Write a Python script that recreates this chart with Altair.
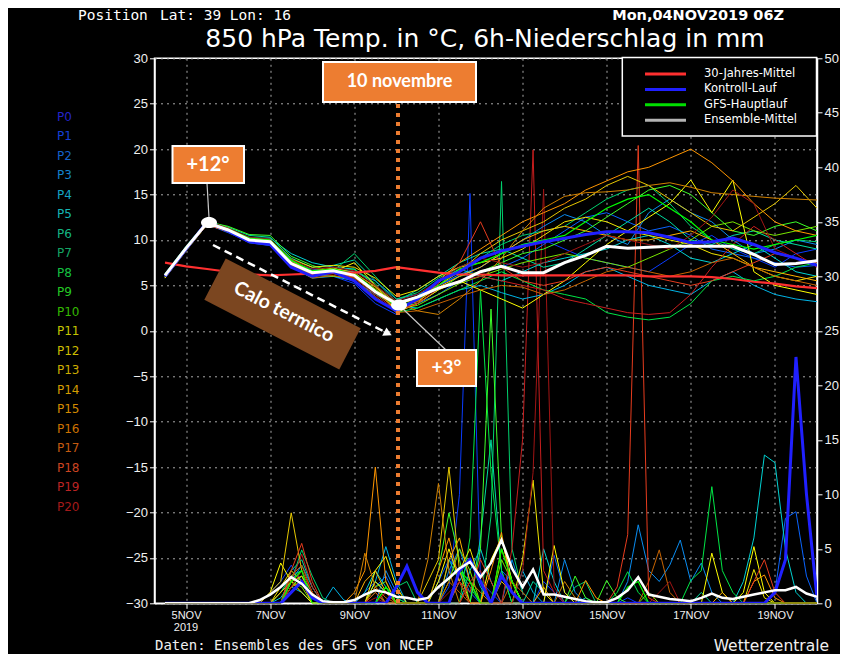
import altair as alt
import pandas as pd

# ---------------- data ----------------
# hours after 04NOV2019 06Z
T_START_H, T_STEP_H = 6, 12      # temperature every 12 h from 04NOV 12Z
P_START_H, P_STEP_H = 6, 6       # 6h precipitation from 04NOV 12Z
N_PRECIP = 63
X_DOMAIN_H = [0, 378]
X_TICK_H = [18, 66, 114, 162, 210, 258, 306, 354]
X_TICK_LABELS = ["5NOV", "7NOV", "9NOV", "11NOV", "13NOV", "15NOV", "17NOV", "19NOV"]
Y_TEMP_TICKS = [-30, -25, -20, -15, -10, -5, 0, 5, 10, 15, 20, 25, 30]
Y_PREC_TICKS = [0, 5, 10, 15, 20, 25, 30, 35, 40, 45, 50]

TEMP_MEAN = [6.1, 9.1, 11.9, 11.1, 10.0, 9.8, 7.4, 6.4, 6.6, 6.1, 4.3, 3.0, 3.7, 4.7, 5.4, 6.5,
             7.1, 6.4, 6.4, 7.5, 8.3, 9.3, 9.1, 9.2, 9.3, 9.3, 9.3, 9.3, 8.4, 7.3, 7.4, 7.7]
TEMP_CLIMO = [7.5, 7.1, 6.8, 6.5, 6.2, 6.1, 6.2, 6.3, 6.4, 6.4, 6.6, 7.0, 6.7, 6.4, 6.2, 6.2,
              6.1, 6.1, 6.1, 6.1, 6.1, 6.1, 6.1, 6.0, 6.0, 6.0, 5.9, 5.7, 5.4, 5.2, 4.9, 4.7]
TEMP_CONTROL = [6.0, 9.0, 12.0, 11.0, 9.8, 9.5, 7.0, 6.0, 6.5, 5.5, 3.5, 2.2, 3.5, 5.5, 6.5, 8.0,
                8.8, 9.3, 9.8, 10.2, 10.6, 10.9, 10.9, 10.8, 10.3, 9.7, 9.8, 10.2, 9.5, 8.6, 8.0, 7.2]
TEMP_GFS = [6.0, 9.1, 12.0, 11.2, 10.2, 10.0, 7.8, 6.6, 6.8, 6.3, 4.5, 2.6, 3.4, 5.0, 6.8, 7.5,
            8.5, 9.5, 10.0, 10.5, 12.0, 13.5, 14.5, 15.0, 13.5, 12.0, 10.0, 9.5, 9.0, 9.5, 10.0, 10.5]
TEMP_MEMBERS = {
    "P1": [5.8, 9.2, 11.9, 11.2, 10.1, 9.9, 7.8, 6.2, 6.0, 5.2, 3.0, 1.8, 3.5, 5.0, 6.0, 7.0,
           8.5, 9.5, 10.0, 9.0, 8.0, 7.5, 7.0, 6.5, 8.0, 9.5, 10.5, 9.0, 8.0, 7.0, 8.5, 9.0],
    "P2": [6.1, 9.0, 11.7, 10.8, 9.8, 9.5, 7.5, 6.8, 6.4, 6.0, 4.5, 2.5, 3.0, 4.0, 5.5, 6.5,
           7.0, 8.0, 9.5, 11.0, 12.5, 13.0, 12.0, 11.0, 11.5, 10.5, 9.0, 8.5, 8.0, 7.5, 7.0, 7.2],
    "P3": [6.2, 9.1, 12.0, 11.1, 10.3, 10.0, 7.2, 6.0, 6.8, 6.5, 5.5, 3.5, 4.0, 5.0, 6.2, 7.0,
           8.5, 10.0, 11.5, 12.8, 12.0, 10.5, 9.5, 13.0, 14.5, 13.0, 12.0, 10.0, 8.5, 9.0, 10.0, 9.5],
    "P4": [5.9, 8.9, 11.8, 11.0, 9.7, 9.4, 7.0, 5.8, 6.0, 5.5, 4.0, 2.8, 2.5, 3.5, 4.5, 5.0,
           4.2, 3.5, 4.0, 5.0, 6.5, 7.0, 6.0, 5.0, 4.5, 4.0, 5.5, 6.5, 5.0, 4.0, 3.5, 3.2],
    "P5": [6.0, 9.0, 11.9, 11.2, 10.2, 10.2, 8.5, 7.5, 7.0, 6.8, 5.0, 3.0, 3.8, 5.5, 6.8, 6.0,
           5.5, 6.5, 7.5, 8.0, 8.5, 9.0, 10.0, 10.5, 9.5, 8.0, 7.5, 8.5, 9.5, 8.0, 6.5, 6.0],
    "P6": [6.3, 9.3, 12.1, 11.4, 10.5, 10.3, 8.0, 7.0, 7.2, 7.8, 5.5, 3.2, 4.5, 6.0, 7.5, 8.5,
           9.0, 8.0, 7.0, 7.5, 9.0, 10.5, 12.0, 13.5, 12.0, 10.0, 9.5, 10.5, 11.0, 10.0, 9.5, 9.0],
    "P7": [6.0, 9.1, 12.0, 11.3, 10.0, 9.6, 7.7, 6.5, 6.6, 8.5, 6.0, 3.5, 4.2, 5.8, 7.0, 8.0,
           9.5, 10.5, 11.0, 11.5, 13.0, 14.5, 15.5, 16.0, 14.0, 11.5, 10.0, 9.0, 8.5, 9.5, 10.0, 9.8],
    "P8": [5.9, 9.0, 11.8, 11.0, 9.9, 9.8, 7.6, 6.3, 6.5, 6.8, 5.2, 2.0, 2.5, 3.5, 4.5, 5.5,
           6.5, 5.5, 4.5, 4.0, 3.5, 2.0, 1.5, 1.2, 1.5, 3.0, 5.5, 6.0, 5.5, 6.0, 7.0, 7.5],
    "P9": [6.1, 9.2, 12.0, 11.5, 10.6, 10.5, 8.2, 7.2, 6.5, 6.0, 4.5, 2.6, 3.0, 4.5, 6.0, 6.5,
           7.5, 8.5, 9.0, 10.0, 11.0, 12.5, 14.0, 15.5, 16.0, 15.0, 13.0, 11.0, 10.5, 11.5, 12.0, 11.0],
    "P10": [6.0, 9.0, 11.9, 11.1, 10.0, 9.7, 7.3, 6.1, 6.0, 5.8, 4.2, 2.4, 2.8, 4.0, 5.2, 6.0,
            6.8, 7.5, 8.0, 8.5, 8.0, 7.5, 7.0, 8.0, 9.0, 10.0, 11.5, 12.0, 11.0, 10.5, 11.0, 11.5],
    "P11": [5.8, 8.8, 11.7, 10.9, 9.9, 9.5, 7.0, 5.9, 6.5, 7.5, 5.0, 2.0, 3.0, 4.5, 5.5, 4.5,
            3.5, 2.5, 4.0, 5.5, 7.5, 9.5, 11.0, 12.5, 14.0, 16.6, 13.0, 16.6, 6.5, 5.0, 4.5, 4.0],
    "P12": [6.2, 9.1, 11.8, 11.2, 10.2, 9.9, 7.9, 7.0, 7.2, 7.0, 5.8, 3.8, 4.5, 6.0, 7.0, 7.5,
            8.0, 9.0, 10.5, 12.0, 12.5, 12.0, 11.0, 10.5, 10.0, 9.5, 8.5, 8.0, 7.0, 6.0, 5.5, 6.0],
    "P13": [6.0, 9.0, 11.9, 11.0, 10.0, 9.8, 7.5, 6.6, 6.9, 6.4, 4.8, 2.9, 3.5, 5.0, 6.5, 8.5,
            10.0, 11.0, 12.0, 13.5, 14.5, 16.0, 17.0, 16.0, 14.5, 13.0, 11.5, 11.0, 12.5, 14.0, 16.0, 13.5],
    "P14": [6.1, 9.1, 12.0, 11.3, 10.2, 10.0, 7.8, 6.4, 6.6, 6.2, 4.6, 2.7, 3.2, 4.8, 6.0, 7.0,
            8.5, 10.0, 11.0, 11.5, 11.0, 10.5, 10.0, 10.0, 10.5, 11.0, 10.0, 8.5, 7.0, 6.5, 6.0, 5.5],
    "P15": [5.9, 8.9, 11.8, 11.0, 9.8, 9.7, 7.4, 6.2, 6.3, 5.9, 4.4, 2.3, 3.0, 5.5, 7.5, 9.0,
            10.5, 12.0, 13.0, 14.0, 15.5, 16.5, 17.5, 18.0, 19.0, 20.0, 18.5, 16.5, 14.0, 12.0, 11.0, 10.5],
    "P16": [6.0, 9.0, 11.8, 11.1, 10.1, 9.9, 7.6, 6.5, 6.7, 6.3, 4.9, 3.1, 2.2, 1.8, 3.5, 5.5,
            8.0, 11.0, 13.5, 14.8, 15.2, 15.3, 15.5, 16.0, 16.3, 15.8, 15.2, 15.0, 14.8, 14.6, 14.5, 14.4],
    "P17": [6.1, 9.2, 11.9, 11.2, 10.0, 9.6, 7.1, 5.8, 6.1, 5.6, 3.8, 2.0, 2.2, 3.0, 3.8, 4.5,
            5.0, 4.8, 4.0, 4.5, 5.5, 6.5, 7.0, 6.5, 6.0, 6.5, 7.5, 8.0, 7.0, 6.0, 5.5, 5.0],
    "P18": [6.0, 9.0, 11.8, 11.0, 9.9, 9.6, 7.5, 6.2, 6.4, 6.0, 4.3, 2.5, 3.3, 5.2, 7.5, 12.0,
            7.0, 5.5, 5.0, 5.5, 6.5, 7.0, 6.5, 6.0, 5.5, 5.0, 5.5, 6.5, 7.5, 8.5, 8.0, 7.5],
    "P19": [5.9, 8.9, 11.7, 10.9, 9.8, 9.5, 7.2, 6.0, 6.3, 5.8, 4.0, 2.2, 3.0, 4.6, 5.5, 6.0,
            5.5, 5.0, 4.5, 3.5, 3.0, 2.5, 2.0, 1.8, 2.0, 4.0, 7.0, 9.5, 11.5, 10.0, 8.5, 7.0],
    "P20": [6.2, 9.2, 12.1, 11.3, 10.3, 10.1, 7.9, 6.8, 7.0, 6.6, 5.0, 3.3, 4.0, 5.5, 7.0, 8.0,
            7.5, 7.0, 7.5, 8.5, 9.5, 10.5, 10.0, 9.5, 9.0, 10.5, 12.5, 15.5, 14.0, 9.0, 8.0, 7.5],
}

PRECIP_MEAN = [0, 0, 0, 0, 0, 0, 0, 0, 0, 0.3, 0.8, 1.5, 2.4, 1.8, 0.8, 0.2, 0.1, 0.1,
               0.3, 0.8, 1.2, 1.0, 0.6, 0.5, 0.3, 0.5, 1.5, 2.3, 3.2, 3.8, 2.4, 3.7, 5.8, 3.2,
               1.5, 3.1, 0.8, 0.8, 0.6, 0.4, 0.2, 0.1, 0.1, 0.5, 1.2, 2.4, 0.8, 0.6, 0.4, 0.3,
               0.2, 0.5, 0.9, 0.5, 0.4, 0.6, 0.8, 1.0, 1.2, 1.2, 1.5, 0.9, 0.6]
# 6h precipitation (mm), only the non-zero 6h steps are listed: {step index: mm}
PRECIP_CONTROL = {12: 1.0, 13: 2.0, 14: 0.5, 22: 1.5, 23: 3.4, 24: 1.0, 28: 3.0, 29: 4.0, 30: 2.0,
                  32: 2.5, 33: 1.0, 58: 1.0, 59: 4.0, 60: 22.6, 61: 10.0, 62: 0.5}
PRECIP_GFS = {12: 2.0, 13: 3.0, 21: 1.5, 28: 3.0, 29: 2.0, 32: 5.0, 33: 2.0, 44: 1.5, 45: 2.0}
PRECIP_MEMBERS = {
    "P1": {10: 1.0, 11: 2.0, 12: 3.5, 13: 2.0, 14: 0.5, 19: 1.0, 20: 2.0, 21: 1.0, 27: 1.5, 28: 10.0,
           29: 37.6, 30: 2.0, 31: 1.0, 36: 2.0, 37: 1.0, 44: 0.5},
    "P2": {11: 1.0, 12: 2.5, 13: 3.0, 14: 1.0, 20: 1.5, 21: 2.5, 22: 0.5, 26: 2.0, 27: 4.0, 28: 3.0,
           29: 1.0, 32: 3.0, 33: 2.0, 37: 4.4, 38: 1.0, 58: 1.0, 59: 7.8, 60: 8.4, 61: 2.5},
    "P3": {12: 2.0, 13: 3.5, 14: 1.5, 21: 3.0, 22: 1.0, 27: 3.0, 28: 5.0, 29: 2.0, 33: 4.0, 34: 1.0,
           38: 4.0, 39: 1.0, 44: 2.0, 45: 7.2, 46: 3.0, 47: 2.0, 48: 3.5, 49: 5.8, 50: 2.0, 51: 3.7, 52: 1.0},
    "P4": {12: 1.5, 13: 1.0, 16: 1.5, 17: 0.3, 20: 2.0, 21: 5.2, 22: 2.0, 28: 2.0, 29: 4.0, 30: 1.5,
           34: 3.0, 35: 1.0, 40: 0.5},
    "P5": {11: 0.5, 12: 2.0, 13: 2.5, 14: 1.0, 19: 1.0, 20: 3.0, 21: 1.5, 29: 3.0, 30: 5.0, 31: 2.0,
           36: 5.0, 37: 2.0, 55: 2.0, 56: 6.0, 57: 13.6, 58: 12.9, 59: 5.0, 60: 1.0},
    "P6": {12: 3.0, 13: 4.0, 14: 1.5, 20: 2.0, 21: 1.0, 27: 4.0, 28: 2.0, 30: 6.0, 31: 15.0, 32: 3.0,
           35: 2.0, 36: 1.0, 51: 1.0},
    "P7": {12: 2.0, 13: 4.9, 14: 2.5, 15: 0.5, 22: 1.5, 23: 2.0, 28: 3.0, 29: 1.5, 31: 8.0, 32: 38.7,
           33: 5.0, 34: 1.0, 39: 1.5, 40: 2.0},
    "P8": {11: 1.0, 12: 2.5, 13: 3.0, 14: 1.0, 21: 1.5, 22: 0.5, 29: 6.0, 30: 28.7, 31: 12.0, 32: 3.0,
           43: 1.0, 44: 2.9, 45: 1.0, 50: 2.1, 51: 3.0, 52: 10.7, 53: 3.0, 54: 1.0},
    "P9": {12: 1.5, 13: 2.5, 14: 1.0, 20: 1.0, 26: 3.0, 27: 8.3, 28: 4.0, 30: 5.0, 31: 27.0, 32: 6.0,
           33: 2.0, 39: 2.5, 40: 0.5, 42: 2.1, 43: 0.5},
    "P10": {11: 1.0, 12: 2.0, 13: 1.5, 20: 1.5, 21: 2.0, 27: 2.0, 28: 5.0, 29: 3.0, 32: 4.0, 33: 2.0, 46: 1.0},
    "P11": {10: 1.0, 11: 3.7, 12: 2.0, 13: 1.0, 20: 3.0, 21: 4.3, 22: 1.5, 26: 2.0, 27: 5.0, 28: 2.0,
            31: 4.0, 32: 6.0, 33: 2.0, 37: 5.3, 38: 1.0, 52: 4.6, 53: 1.0, 55: 1.0, 56: 5.2, 57: 1.0},
    "P12": {11: 1.5, 12: 3.0, 13: 2.0, 20: 2.0, 21: 1.0, 28: 3.0, 29: 5.0, 30: 2.0, 34: 4.0, 35: 11.3,
            36: 1.0, 56: 3.1, 57: 0.5},
    "P13": {10: 1.0, 11: 2.0, 12: 8.3, 13: 3.0, 14: 1.0, 25: 2.0, 26: 4.0, 27: 12.5, 28: 3.0, 32: 2.0, 33: 1.0},
    "P14": {11: 1.0, 12: 2.0, 13: 2.5, 14: 0.5, 19: 2.0, 20: 3.0, 21: 1.0, 27: 4.0, 28: 6.0, 29: 2.0,
            32: 5.0, 33: 2.0, 36: 1.5, 53: 1.0},
    "P15": {12: 1.5, 13: 2.0, 18: 1.0, 19: 3.0, 20: 12.5, 21: 2.0, 26: 3.0, 27: 6.0, 28: 2.0, 31: 3.0,
            32: 6.5, 33: 1.0, 40: 2.1, 41: 0.5, 56: 2.0, 57: 2.6, 58: 0.5},
    "P16": {12: 2.0, 13: 3.0, 14: 1.0, 19: 4.6, 20: 1.5, 25: 4.0, 26: 11.0, 27: 3.0, 29: 2.0, 30: 1.0,
            38: 2.0, 39: 0.5},
    "P17": {12: 2.5, 13: 3.5, 14: 1.0, 20: 1.5, 21: 0.5, 27: 2.0, 28: 1.0, 33: 2.0, 34: 1.0, 46: 2.0,
            47: 4.9, 48: 1.0},
    "P18": {12: 3.0, 13: 5.5, 14: 2.0, 20: 1.0, 28: 2.0, 29: 1.0, 30: 4.0, 31: 2.0, 43: 1.5, 44: 6.3,
            45: 42.0, 46: 0.5, 56: 2.0, 57: 4.0, 58: 1.0},
    "P19": {12: 2.0, 13: 4.5, 14: 1.5, 21: 1.0, 29: 2.0, 30: 3.0, 33: 5.0, 34: 15.0, 35: 41.6, 36: 3.0, 37: 1.0},
    "P20": {12: 1.5, 13: 3.0, 14: 1.0, 20: 0.5, 27: 1.0, 28: 2.0, 34: 3.0, 35: 12.0, 36: 38.0, 37: 1.5,
            47: 1.0, 48: 2.0},
}

MEMBER_COLORS = {
    "P1": "#0a3cff", "P2": "#0a64ff", "P3": "#0a8cf0", "P4": "#00b4e6", "P5": "#00d2d2",
    "P6": "#00dca0", "P7": "#00d26e", "P8": "#00e646", "P9": "#3cff28", "P10": "#78e600",
    "P11": "#ffff00", "P12": "#f0e600", "P13": "#e6c800", "P14": "#ffb400", "P15": "#ff9600",
    "P16": "#d28200", "P17": "#c86400", "P18": "#e63c1e", "P19": "#c81e1e", "P20": "#a01414",
}
P_LABELS = ["P%d" % i for i in range(21)]
P_LABEL_COLORS = ["#2424c8", "#1440d8", "#1462cc", "#1482cc", "#14a2c4", "#14b4b4", "#14b484",
                  "#14a464", "#14c040", "#24c824", "#34b800", "#c4c400", "#ccbc00", "#ccac00",
                  "#d49c00", "#d48a00", "#cc7200", "#c45a10", "#cc4420", "#bc2424", "#a41a1a"]
LEGEND_LABELS = ["30-Jahres-Mittel", "Kontroll-Lauf", "GFS-Hauptlauf", "Ensemble-Mittel"]
LEGEND_COLORS = ["#ff3030", "#2020ff", "#00e000", "#b4b4b4"]

# ---------------- layout helpers ----------------
W, H = 662.5, 545
X0, Y0 = 154.5, 58.3          # page position of the plot origin
LABEL_FONT = "Liberation Sans Narrow, Liberation Sans, DejaVu Sans"
ANNOT_FONT = "Lato, Open Sans, sans-serif"
ORANGE = "#ed7d31"


def px(x):
    return x - X0


def py(y):
    return y - Y0


def series_df(name, vals, start, step, color):
    return pd.DataFrame({"series": name, "h": [start + step * i for i in range(len(vals))],
                         "v": vals, "col": color})


def full_precip(sparse):
    return [sparse.get(j, 0.0) for j in range(N_PRECIP)]


df_tm = pd.concat([series_df(n, v, T_START_H, T_STEP_H, MEMBER_COLORS[n]) for n, v in TEMP_MEMBERS.items()])
df_pm = pd.concat([series_df(n, full_precip(v), P_START_H, P_STEP_H, MEMBER_COLORS[n])
                   for n, v in PRECIP_MEMBERS.items()])
df_tmean = series_df("mean", TEMP_MEAN, T_START_H, T_STEP_H, "#ffffff")
df_tclim = series_df("climo", TEMP_CLIMO, T_START_H, T_STEP_H, "#ff3030")
df_tctrl = series_df("ctrl", TEMP_CONTROL, T_START_H, T_STEP_H, "#2020ff")
df_tgfs = series_df("gfs", TEMP_GFS, T_START_H, T_STEP_H, "#00ff00")
df_pmean = series_df("mean", PRECIP_MEAN, P_START_H, P_STEP_H, "#ffffff")
df_pctrl = series_df("ctrl", full_precip(PRECIP_CONTROL), P_START_H, P_STEP_H, "#2020ff")
df_pgfs = series_df("gfs", full_precip(PRECIP_GFS), P_START_H, P_STEP_H, "#00ff00")

label_expr = " : ".join("datum.value == %d ? '%s'" % (h, l) for h, l in zip(X_TICK_H, X_TICK_LABELS)) + " : ''"

GRID = dict(grid=True, gridColor="#a8a8a8", gridDash=[2, 4], gridWidth=1)
x_axis = alt.Axis(values=X_TICK_H, labelExpr=label_expr, title=None, domainColor="white", domainWidth=1.5,
                  tickColor="white", tickSize=5, labelColor="#f0f0f0", labelFont=LABEL_FONT,
                  labelFontSize=11, labelPadding=1, labelFlush=False, **GRID)
y_left = alt.Axis(values=Y_TEMP_TICKS, title=None, orient="left", domainColor="white", domainWidth=1.5,
                  tickColor="white", tickSize=5, labelColor="#f0f0f0", labelFont=LABEL_FONT,
                  labelFontSize=13, labelPadding=2, labelFlush=False, **GRID)
y_right = alt.Axis(values=Y_PREC_TICKS, title=None, orient="right", grid=False, domainColor="white",
                   domainWidth=1.5, tickColor="white", tickSize=5, labelColor="#f0f0f0",
                   labelFont=LABEL_FONT, labelFontSize=13, labelPadding=2, labelFlush=False)

X = alt.X("h:Q", scale=alt.Scale(domain=X_DOMAIN_H, nice=False, zero=False), axis=x_axis)
YT = alt.Y("v:Q", scale=alt.Scale(domain=[-30, 30], nice=False, zero=False), axis=y_left)
YP = alt.Y("v:Q", scale=alt.Scale(domain=[0, 50], nice=False, zero=False), axis=y_right)
COL = alt.Color("col:N", scale=None)


def line(df, y, width):
    return alt.Chart(df).mark_line(strokeWidth=width, clip=True).encode(
        x=X, y=y, color=COL, detail="series:N")


precip_group = alt.layer(line(df_pm, YP, 1), line(df_pgfs, YP, 1.2),
                         line(df_pctrl, YP, 3), line(df_pmean, YP, 2.5))
temp_group = alt.layer(line(df_tm, YT, 1), line(df_tgfs, YT, 1.2), line(df_tclim, YT, 2.2),
                       line(df_tctrl, YT, 3), line(df_tmean, YT, 3))

one = pd.DataFrame({"a": [0]})


def text(x, y, s, size, font=LABEL_FONT, weight="normal", align="left", color="white", angle=0):
    return alt.Chart(one).mark_text(fontSize=size, font=font, fontWeight=weight, align=align,
                                    baseline="middle", color=color, angle=angle).encode(
        x=alt.value(px(x)), y=alt.value(py(y)), text=alt.value(s))


def rect(x1, y1, x2, y2, fill, stroke=None, sw=0):
    kw = dict(fill=fill, strokeWidth=sw, opacity=1)
    if stroke:
        kw["stroke"] = stroke
    return alt.Chart(one).mark_rect(**kw).encode(
        x=alt.value(px(x1)), x2=alt.value(px(x2)), y=alt.value(py(y1)), y2=alt.value(py(y2)))


def seg(x1, y1, x2, y2, color, width, dash=None):
    kw = dict(color=color, strokeWidth=width)
    if dash:
        kw["strokeDash"] = dash
    return alt.Chart(one).mark_rule(**kw).encode(
        x=alt.value(px(x1)), x2=alt.value(px(x2)), y=alt.value(py(y1)), y2=alt.value(py(y2)))


def symbol(x, y, shape, size, color, angle=0):
    return alt.Chart(one).mark_point(shape=shape, size=size, filled=True, color=color, opacity=1,
                                     angle=angle, strokeWidth=0).encode(
        x=alt.value(px(x)), y=alt.value(py(y)))


ELLIPSE = "M-1,0 A1,0.7,0,1,1,1,0 A1,0.7,0,1,1,-1,0 Z"
BANNER = "M-1,-0.306 L1,-0.306 L1,0.306 L-1,0.306 Z"

# P0..P20 labels on the left
df_plab = pd.DataFrame({"lab": P_LABELS, "col": P_LABEL_COLORS,
                        "py": [py(116.7 + 19.5 * i) for i in range(len(P_LABELS))]})
plabels = alt.Chart(df_plab).mark_text(align="left", baseline="middle", fontSize=12,
                                       font="DejaVu Sans").encode(
    x=alt.value(px(57)), y=alt.Y("py:Q", scale=None, axis=None), text="lab:N", color=COL)

# legend box
df_leg = pd.DataFrame({"lab": LEGEND_LABELS, "col": LEGEND_COLORS,
                       "py": [py(74 + 15.4 * i) for i in range(len(LEGEND_LABELS))]})
leg_box = rect(622.3, 57.5, 816.5, 136, "black", "white", 1.5)
leg_lines = alt.Chart(df_leg).mark_rule(strokeWidth=3).encode(
    x=alt.value(px(645)), x2=alt.value(px(686)), y=alt.Y("py:Q", scale=None, axis=None), color=COL)
leg_text = alt.Chart(df_leg).mark_text(align="left", baseline="middle", fontSize=11.5,
                                       font="DejaVu Sans", color="white").encode(
    x=alt.value(px(704)), y=alt.Y("py:Q", scale=None, axis=None), text="lab:N")

annotations = [
    # headers / footers
    text(78, 16, "Position", 14.5, font="DejaVu Sans Mono"),
    text(160, 16, "Lat: 39 Lon: 16", 14.5, font="DejaVu Sans Mono"),
    text(784, 15.5, "Mon,04NOV2019 06Z", 14.5, font="DejaVu Sans", weight="bold", align="right"),
    text(485, 39, "850 hPa Temp. in °C, 6h-Niederschlag in mm", 25, font="DejaVu Sans", align="center"),
    text(186, 627.5, "2019", 11, align="center", color="#f0f0f0"),
    text(155, 646, "Daten: Ensembles des GFS von NCEP", 14, font="DejaVu Sans Mono", color="#f0f0f0"),
    text(829, 645.5, "Wetterzentrale", 15.5, font="DejaVu Sans", align="right", color="#f0f0f0"),
    plabels, leg_box, leg_lines, leg_text,
    # 10 novembre marker
    seg(398, 104, 398, 603, ORANGE, 4, [4, 5]),
    rect(323, 62, 476, 102, ORANGE, "white", 2),
    text(399.5, 82, "10 novembre", 18, font=ANNOT_FONT, weight="bold", align="center"),
    # +12 degrees
    seg(207, 183, 209, 218, "#c8c8c8", 1.2),
    rect(172.5, 146, 244, 183, ORANGE, "white", 2),
    text(208, 165, "+12°", 20, font=ANNOT_FONT, weight="bold", align="center"),
    symbol(209, 222.5, ELLIPSE, 256, "white"),
    # +3 degrees
    seg(402, 308, 446, 350, "#c8c8c8", 1.2),
    symbol(399, 305, ELLIPSE, 256, "white"),
    rect(417, 350, 476, 386, ORANGE, "white", 2),
    text(446.5, 368, "+3°", 19, font=ANNOT_FONT, weight="bold", align="center"),
    # Calo termico banner and arrow
    symbol(282.5, 314, BANNER, 152 * 152, "#7b4620", angle=27.4),
    text(284, 312, "Calo termico", 19.5, font=ANNOT_FONT, weight="bold", align="center", angle=27.4),
    seg(213, 245, 385, 332, "white", 2.5, [8, 5]),
    symbol(388, 333.5, "triangle-right", 90, "white", angle=27),
]

chart = alt.layer(precip_group, temp_group, *annotations).resolve_scale(y="independent").properties(
    width=W, height=H,
    autosize=alt.AutoSizeParams(type="none"),
    padding={"left": X0 - 8, "top": Y0 - 8, "right": 23, "bottom": 646 - H - (Y0 - 8)},
).configure(background="black").configure_view(stroke="white", strokeWidth=1.5)

chart.save("out.html", embed_options={"renderer": "svg", "actions": False})
